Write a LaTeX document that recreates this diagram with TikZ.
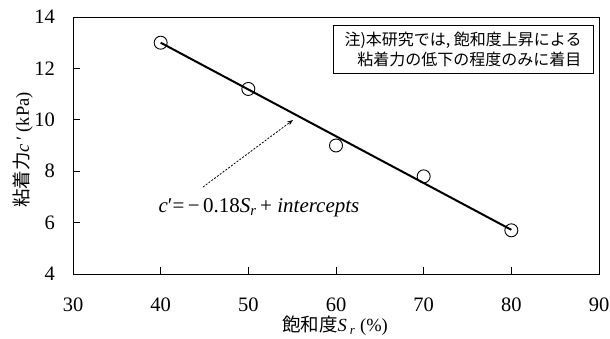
\documentclass[tikz,border=0pt]{standalone}
\usepackage{fontspec}
\setmainfont{Liberation Serif}
\newfontfamily\jp{Noto Sans CJK JP}
\usetikzlibrary{arrows.meta}
\begin{document}
\begin{tikzpicture}[x=1pt,y=-1pt,
  frame/.style={draw=black, line width=0.9pt},
  tickmark/.style={draw=black, line width=0.7pt},
  ticklab/.style={font=\fontsize{20.5}{20.5}\selectfont, inner sep=0pt},
  datapt/.style={circle, draw=black, line width=0.9pt, minimum size=13pt, inner sep=0pt},
  fitline/.style={draw=black, line width=2pt},
  hint/.style={draw=black, line width=0.8pt, dash pattern=on 2pt off 1.5pt, -{Stealth[length=6pt,width=4.5pt]}},
  notebox/.style={draw=black, line width=0.8pt, minimum width=260pt, minimum height=48pt, align=right, inner xsep=7pt, font=\jp\fontsize{16}{20}\selectfont},
  axlab/.style={inner sep=0pt, font=\fontsize{18.5}{18.5}\selectfont},
  eqlab/.style={inner sep=0pt, font=\fontsize{21}{21}\selectfont}
]
\useasboundingbox (0,0) rectangle (610,338);
\fill[white] (0,0) rectangle (610,338);
\begin{scope}[x=8.7667pt, y=25.7pt, shift={(-30,-4)}, xshift=73pt, yshift=-274pt]
  \draw[frame] (30,4) rectangle (90,14);
  \foreach \v in {40,50,60,70,80} {
    \draw[tickmark] (\v,4) -- ++(0,0.27);
  }
  \foreach \v in {6,8,10,12} {
    \draw[tickmark] (30,\v) -- ++(0.8,0);
  }
  \foreach \v in {30,40,50,60,70,80,90} {
    \node[ticklab, yshift=-31pt] (xl\v) at (\v,4) {\v};
  }
  \foreach \v in {4,6,8,10,12,14} {
    \node[ticklab, anchor=east, xshift=-18pt] (yl\v) at (30,\v) {\v};
  }
  \node[datapt] (d1) at (40,13) {};
  \node[datapt] (d2) at (50,11.2) {};
  \node[datapt] (d3) at (60,9) {};
  \node[datapt] (d4) at (70,7.8) {};
  \node[datapt] (d5) at (80,5.7) {};
  \draw[fitline] (d1.center) -- (80,5.72);
\end{scope}
\node[notebox] (note) at (463,49) {注)本研究では, 飽和度上昇による\\粘着力の低下の程度のみに着目};
\node[eqlab] (eq) at (259,208) {\textit{c}′=\,−\,0.18\textit{S}\textsubscript{\textit{r}}\,+ \textit{intercepts}};
\coordinate (hs) at (203,187);
\coordinate (he) at (293,120);
\draw[hint] (hs) -- (he);
\node[axlab] (xlab) at (335,326) {{\jp 飽和度}\textit{S}\,\textsubscript{\textit{r}} (\%)};
\node[axlab, rotate=90] (ylab) at (23,150) {{\jp 粘着力}\textit{c}\,′ (kPa)};
\end{tikzpicture}
\end{document}
